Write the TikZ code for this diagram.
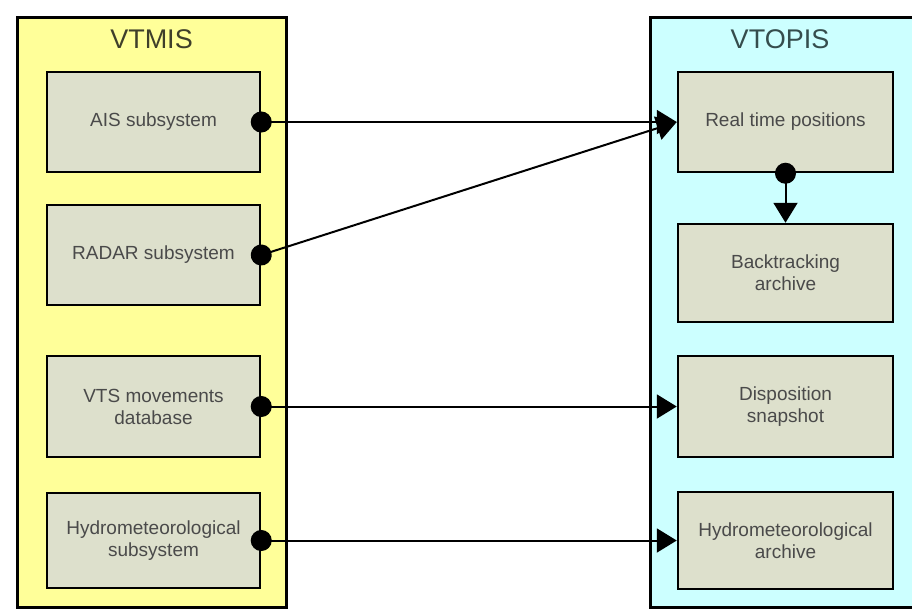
\documentclass[tikz,border=0pt]{standalone}
\usepackage{fontspec}
\setmainfont{Liberation Sans}
\usetikzlibrary{arrows.meta}

\definecolor{vtmisfill}{HTML}{FFFF99}
\definecolor{vtopisfill}{HTML}{CCFFFF}
\definecolor{unitfill}{HTML}{DDE0CC}
\definecolor{labelgray}{HTML}{4A4A4A}
\definecolor{vtmistext}{HTML}{3F3F2A}
\definecolor{vtopistext}{HTML}{354D4D}

\tikzset{
  sysbox/.style={draw, line width=3pt, minimum width=#1, minimum height=590pt, inner sep=0pt},
  systitle/.style={font=\fontsize{27}{30}\selectfont},
  unitbox/.style={draw, line width=2.5pt, fill=unitfill, text=labelgray, align=center,
    inner sep=0pt, font=\fontsize{19}{22}\selectfont},
  link/.style={line width=2pt, {Circle[length=21pt]}-{Triangle[length=20pt,width=24pt]},
    shorten <=-10.5pt}
}

\begin{document}
\begin{tikzpicture}[x=1pt, y=-1pt]
    \useasboundingbox (0,0) rectangle (912,611);

    % Systems
    \node[sysbox=269pt, fill=vtmisfill] (vtmis) at (151.5,312) {};
    \node[sysbox=265pt, fill=vtopisfill] (vtopis) at (782.5,312) {};
    \node[systitle, text=vtmistext] (vtmistitle) at (151.5,39) {VTMIS};
    \node[systitle, text=vtopistext] (vtopistitle) at (780,39) {VTOPIS};

    % VTMIS units
    \node[unitbox, minimum width=213pt, minimum height=100pt] (ais) at (153.5,122) {AIS subsystem};
    \node[unitbox, minimum width=213pt, minimum height=100pt] (radar) at (153.5,255) {RADAR subsystem};
    \node[unitbox, minimum width=213pt, minimum height=101pt] (vts) at (153.5,406.5) {VTS movements\\database};
    \node[unitbox, minimum width=213pt, minimum height=95pt] (hydrosub) at (153.5,540.5) {Hydrometeorological\\subsystem};

    % VTOPIS units
    \node[unitbox, minimum width=215pt, minimum height=100pt] (realtime) at (785.5,122) {Real time positions};
    \node[unitbox, minimum width=215pt, minimum height=98pt] (backtrack) at (785.5,273) {Backtracking\\archive};
    \node[unitbox, minimum width=215pt, minimum height=101pt] (dispo) at (785.5,406.5) {Disposition\\snapshot};
    \node[unitbox, minimum width=215pt, minimum height=97pt] (hydroarch) at (785.5,540.5) {Hydrometeorological\\archive};

    % Links
    \draw[link] (ais.east) -- (realtime.west);
    \draw[link] (radar.east) -- (realtime.west);
    \draw[link] (realtime.south) -- (backtrack.north);
    \draw[link] (vts.east) -- (dispo.west);
    \draw[link] (hydrosub.east) -- (hydroarch.west);
\end{tikzpicture}
\end{document}
